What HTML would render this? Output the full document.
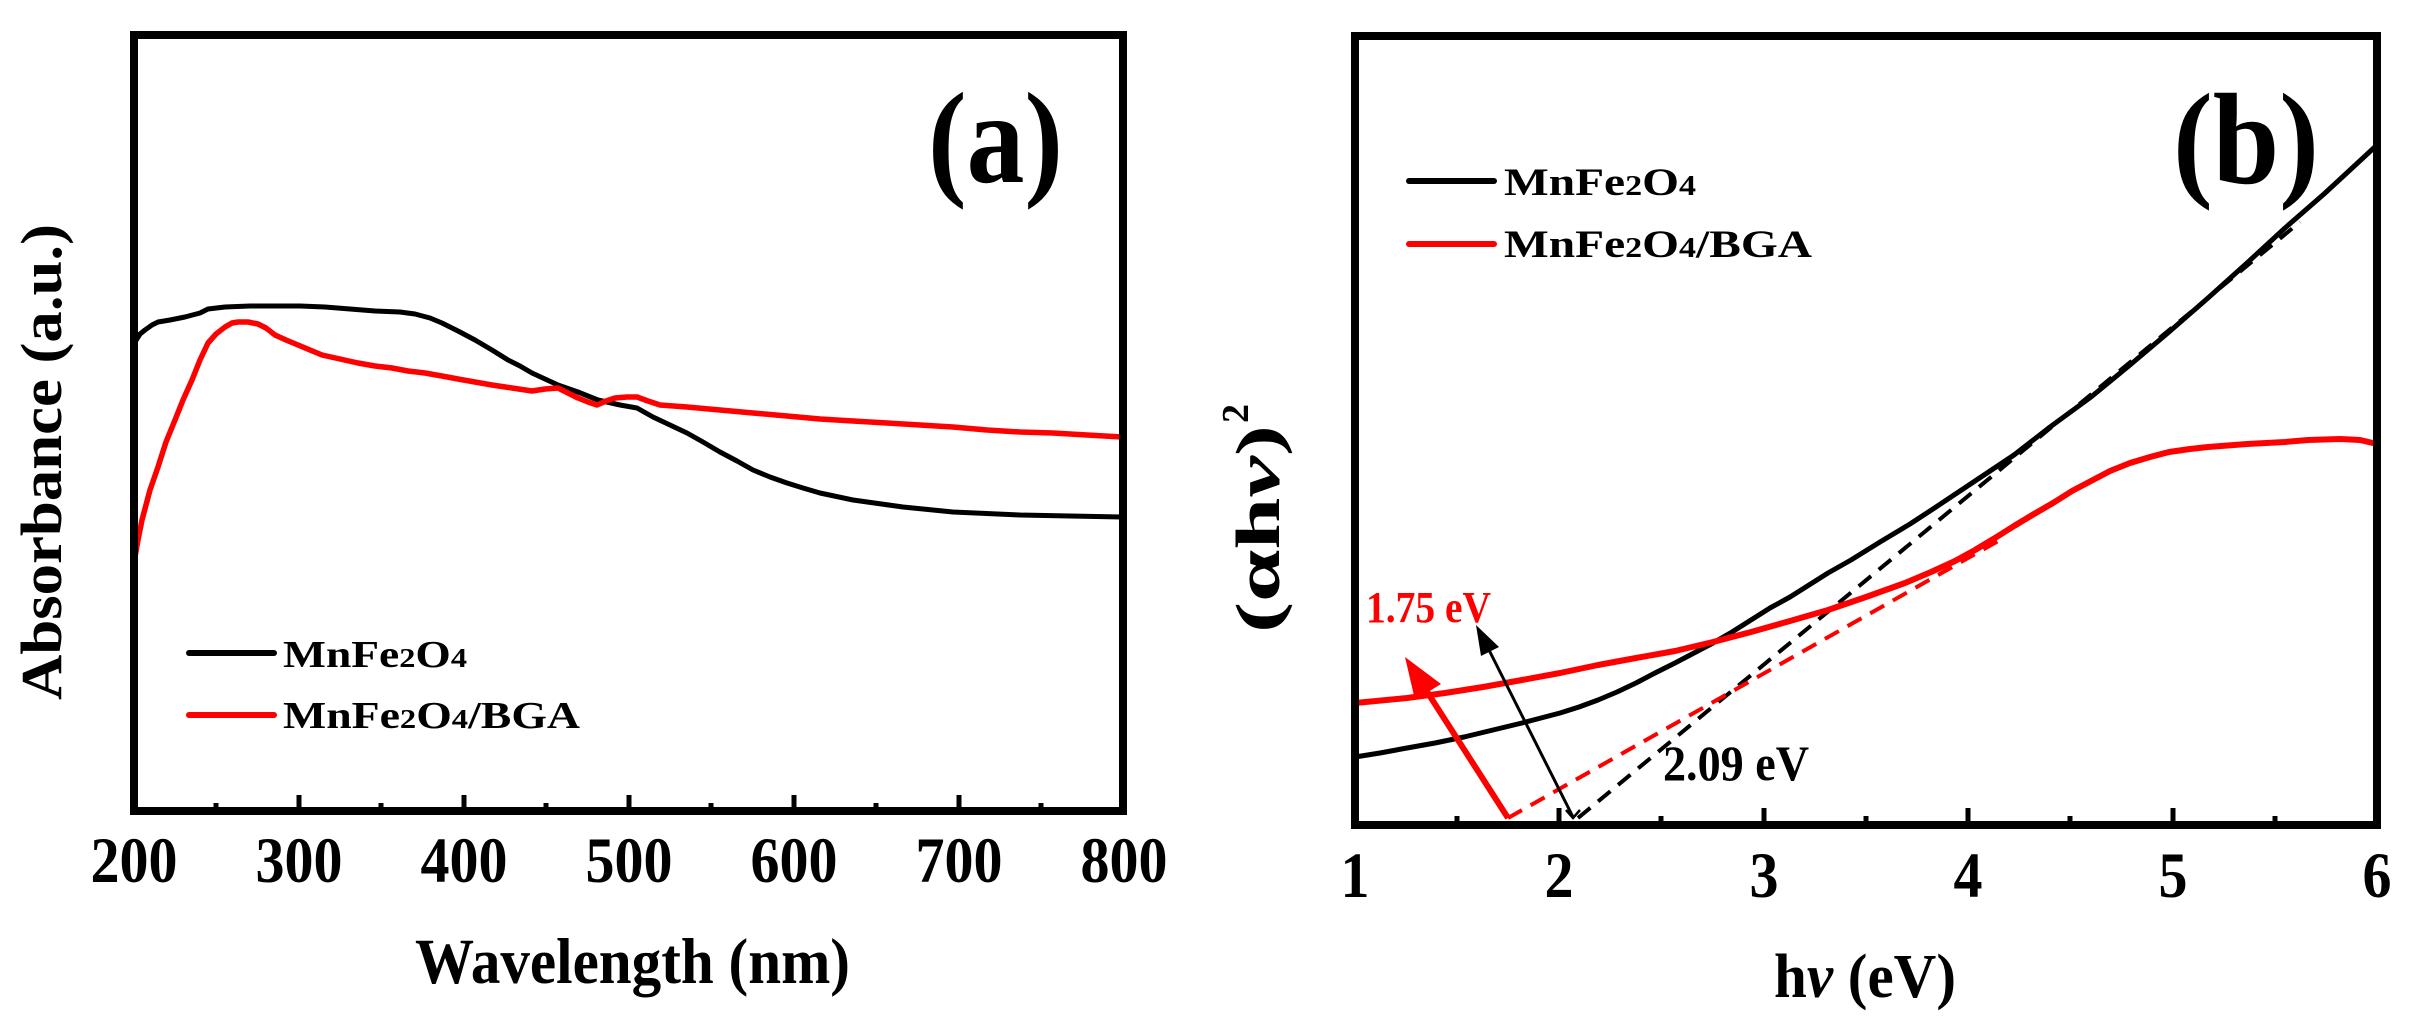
<!DOCTYPE html>
<html>
<head>
<meta charset="utf-8">
<style>
  html, body { margin: 0; padding: 0; background: #fff; }
  svg { display: block; }
  text { font-family: "Liberation Serif", "Times New Roman", serif; font-weight: bold; }
</style>
</head>
<body>
<svg width="2414" height="1033" viewBox="0 0 2414 1033" xmlns="http://www.w3.org/2000/svg">
  <rect width="2414" height="1033" fill="#fff"/>

  <!-- ================= PANEL (a) ================= -->
  <polyline fill="none" stroke="#000" stroke-width="5" stroke-linejoin="round" stroke-linecap="round"
    points="135,342 140,334 145,330 152,325 158,322 170,320 185,317 200,313 208,309 225,307 250,306 275,306 300,306 325,307 350,309 375,311 400,312 415,314 430,318 442,323 458,331 475,340 492,350 508,360 520,366 532,373 545,379 558,385 578,392 598,400 620,405 637,408 653,417 670,425 687,433 703,442 720,452 737,461 753,470 770,477 787,483 803,488 820,493 853,500 903,507 953,512 1020,515 1070,516 1122,517"/>
  <polyline fill="none" stroke="#ff0000" stroke-width="5.5" stroke-linejoin="round" stroke-linecap="round"
    points="135,557 138,540 142,520 150,490 158,467 166,442 175,420 183,400 192,380 200,360 208,343 216,334 225,327 232,323 238,322 248,322 258,324 266,328 275,335 286,340 298,345 310,350 322,355 340,359 358,363 375,366 392,368 408,371 425,373 442,376 458,379 475,382 492,385 512,388 532,391 545,389 558,388 568,393 578,398 588,402 597,405 606,401 615,398 627,397 637,397 648,401 660,405 687,407 720,410 753,413 787,416 820,419 853,421 887,423 920,425 953,427 987,430 1020,432 1053,433 1087,435 1122,437"/>

  <rect x="134" y="35" width="989" height="776" fill="none" stroke="#000" stroke-width="8"/>
  <g stroke="#000" stroke-width="5">
    <line x1="299" y1="811" x2="299" y2="795"/>
    <line x1="464" y1="811" x2="464" y2="795"/>
    <line x1="629" y1="811" x2="629" y2="795"/>
    <line x1="794" y1="811" x2="794" y2="795"/>
    <line x1="959" y1="811" x2="959" y2="795"/>
    <line x1="216" y1="811" x2="216" y2="803"/>
    <line x1="381" y1="811" x2="381" y2="803"/>
    <line x1="546" y1="811" x2="546" y2="803"/>
    <line x1="711" y1="811" x2="711" y2="803"/>
    <line x1="876" y1="811" x2="876" y2="803"/>
    <line x1="1041" y1="811" x2="1041" y2="803"/>
  </g>
  <g font-size="65" text-anchor="middle" fill="#000">
    <text x="134" y="882" textLength="87" lengthAdjust="spacingAndGlyphs">200</text>
    <text x="299" y="882" textLength="87" lengthAdjust="spacingAndGlyphs">300</text>
    <text x="464" y="882" textLength="87" lengthAdjust="spacingAndGlyphs">400</text>
    <text x="629" y="882" textLength="87" lengthAdjust="spacingAndGlyphs">500</text>
    <text x="794" y="882" textLength="87" lengthAdjust="spacingAndGlyphs">600</text>
    <text x="959" y="882" textLength="87" lengthAdjust="spacingAndGlyphs">700</text>
    <text x="1124" y="882" textLength="87" lengthAdjust="spacingAndGlyphs">800</text>
  </g>
  <text x="415" y="983" font-size="65" textLength="435" lengthAdjust="spacingAndGlyphs">Wavelength (nm)</text>
  <text transform="translate(61,462) rotate(-90)" x="0" y="0" font-size="58" text-anchor="middle" textLength="476" lengthAdjust="spacingAndGlyphs">Absorbance (a.u.)</text>
  <text x="928" y="182" font-size="130" textLength="135" lengthAdjust="spacingAndGlyphs">(a)</text>
  <line x1="189" y1="653" x2="274" y2="653" stroke="#000" stroke-width="6" stroke-linecap="round"/>
  <line x1="189" y1="715" x2="274" y2="715" stroke="#ff0000" stroke-width="6" stroke-linecap="round"/>
  <text x="283" y="667" font-size="38" textLength="184" lengthAdjust="spacingAndGlyphs">MnFe<tspan font-size="27">2</tspan>O<tspan font-size="27">4</tspan></text>
  <text x="283" y="728" font-size="38" textLength="297" lengthAdjust="spacingAndGlyphs">MnFe<tspan font-size="27">2</tspan>O<tspan font-size="27">4</tspan>/BGA</text>

  <!-- ================= PANEL (b) ================= -->
  <line x1="1578" y1="818" x2="2300" y2="222" stroke="#000" stroke-width="4" stroke-dasharray="16,10"/>
  <line x1="1508" y1="818" x2="2000" y2="540" stroke="#ff0000" stroke-width="4" stroke-dasharray="16,10"/>
  <polyline fill="none" stroke="#000" stroke-width="5" stroke-linejoin="round" stroke-linecap="round"
    points="1355,757 1380,753 1407,748 1435,743 1464,737 1493,730 1522,723 1541,718 1560,713 1579,707 1598,700 1617,692 1636,683 1655,673 1675,663 1694,653 1713,643 1732,632 1751,620 1770,608 1790,597 1809,585 1828,573 1851,560 1880,542 1910,524 1936,507 1975,481 2014,455 2050,427 2091,397 2130,365 2169,332 2208,298 2247,263 2285,228 2324,194 2350,170 2377,145"/>
  <polyline fill="none" stroke="#ff0000" stroke-width="6" stroke-linejoin="round" stroke-linecap="round"
    points="1355,703 1407,698 1445,693 1483,687 1522,680 1560,673 1598,665 1636,658 1675,651 1713,642 1751,632 1790,621 1828,610 1866,597 1905,583 1931,572 1955,561 1975,550 1995,538 2014,526 2034,514 2053,503 2072,491 2091,481 2110,471 2130,463 2150,457 2169,452 2190,449 2208,447 2247,444 2285,442 2308,440 2340,439 2360,440 2377,444"/>
  <line x1="1508" y1="818" x2="1424" y2="687" stroke="#ff0000" stroke-width="6"/>
  <polygon points="1405,657 1441,684 1415,700" fill="#ff0000"/>
  <line x1="1573" y1="817" x2="1488" y2="648" stroke="#000" stroke-width="3"/>
  <polygon points="1476,625 1499,647 1481,656" fill="#000"/>
  <polyline points="1566,810 1573,818 1580,810" fill="none" stroke="#000" stroke-width="2.5"/>
  <text x="1366" y="622" font-size="44" fill="#ff0000" textLength="125" lengthAdjust="spacingAndGlyphs">1.75 eV</text>
  <text x="1663" y="780" font-size="50" fill="#000" textLength="146" lengthAdjust="spacingAndGlyphs">2.09 eV</text>

  <rect x="1355" y="36" width="1022" height="789" fill="none" stroke="#000" stroke-width="8"/>
  <g stroke="#000" stroke-width="5">
    <line x1="1559" y1="825" x2="1559" y2="808"/>
    <line x1="1764" y1="825" x2="1764" y2="808"/>
    <line x1="1968" y1="825" x2="1968" y2="808"/>
    <line x1="2173" y1="825" x2="2173" y2="808"/>
    <line x1="1457" y1="825" x2="1457" y2="816"/>
    <line x1="1661" y1="825" x2="1661" y2="816"/>
    <line x1="1866" y1="825" x2="1866" y2="816"/>
    <line x1="2070" y1="825" x2="2070" y2="816"/>
    <line x1="2275" y1="825" x2="2275" y2="816"/>
  </g>
  <g font-size="65" text-anchor="middle" fill="#000">
    <text x="1355" y="897" textLength="29" lengthAdjust="spacingAndGlyphs">1</text>
    <text x="1559" y="897" textLength="29" lengthAdjust="spacingAndGlyphs">2</text>
    <text x="1764" y="897" textLength="29" lengthAdjust="spacingAndGlyphs">3</text>
    <text x="1968" y="897" textLength="29" lengthAdjust="spacingAndGlyphs">4</text>
    <text x="2173" y="897" textLength="29" lengthAdjust="spacingAndGlyphs">5</text>
    <text x="2377" y="897" textLength="29" lengthAdjust="spacingAndGlyphs">6</text>
  </g>
  <text x="1774" y="997" font-size="62" textLength="182" lengthAdjust="spacingAndGlyphs">h<tspan font-style="italic">ν</tspan> (eV)</text>
  <text transform="translate(1279,633) rotate(-90)" x="0" y="0" font-size="62" textLength="208" lengthAdjust="spacingAndGlyphs">(αh<tspan font-style="italic">ν</tspan>)</text>
  <text transform="translate(1248,423) rotate(-90)" x="0" y="0" font-size="38">2</text>
  <text x="2173" y="183" font-size="130" textLength="146" lengthAdjust="spacingAndGlyphs">(b)</text>
  <line x1="1409" y1="181" x2="1494" y2="181" stroke="#000" stroke-width="6" stroke-linecap="round"/>
  <line x1="1409" y1="244" x2="1494" y2="244" stroke="#ff0000" stroke-width="6" stroke-linecap="round"/>
  <text x="1504" y="195" font-size="39" textLength="192" lengthAdjust="spacingAndGlyphs">MnFe<tspan font-size="28">2</tspan>O<tspan font-size="28">4</tspan></text>
  <text x="1504" y="257" font-size="39" textLength="308" lengthAdjust="spacingAndGlyphs">MnFe<tspan font-size="28">2</tspan>O<tspan font-size="28">4</tspan>/BGA</text>
</svg>
</body>
</html>
